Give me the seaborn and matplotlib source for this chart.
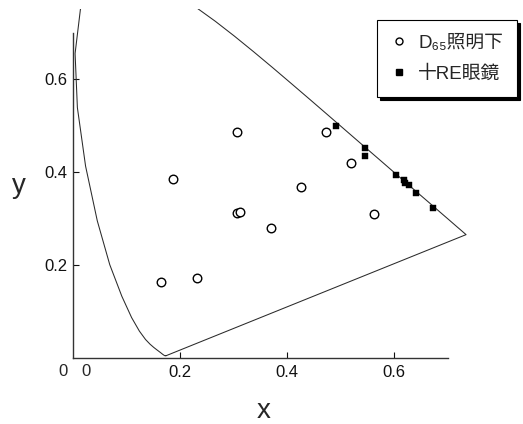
import pandas as pd
import seaborn as sns
import matplotlib.pyplot as plt
from matplotlib.lines import Line2D

# CIE 1931 spectral locus (380-700 nm, 5 nm steps), closed by the purple line
locus_x = [0.1741, 0.1740, 0.1738, 0.1736, 0.1733, 0.1730, 0.1726, 0.1721, 0.1714,
           0.1703, 0.1689, 0.1669, 0.1644, 0.1611, 0.1566, 0.1510, 0.1440, 0.1355,
           0.1241, 0.1096, 0.0913, 0.0687, 0.0454, 0.0235, 0.0082, 0.0039, 0.0139,
           0.0389, 0.0743, 0.1142, 0.1547, 0.1929, 0.2296, 0.2658, 0.3016, 0.3373,
           0.3731, 0.4087, 0.4441, 0.4788, 0.5125, 0.5448, 0.5752, 0.6029, 0.6270,
           0.6482, 0.6658, 0.6801, 0.6915, 0.7006, 0.7079, 0.7140, 0.7190, 0.7230,
           0.7260, 0.7283, 0.7300, 0.7311, 0.7320, 0.7347, 0.1741]
locus_y = [0.0050, 0.0050, 0.0049, 0.0049, 0.0048, 0.0048, 0.0048, 0.0048, 0.0051,
           0.0058, 0.0069, 0.0086, 0.0109, 0.0138, 0.0177, 0.0227, 0.0297, 0.0399,
           0.0578, 0.0868, 0.1327, 0.2007, 0.2950, 0.4127, 0.5384, 0.6548, 0.7502,
           0.8120, 0.8338, 0.8262, 0.8059, 0.7816, 0.7543, 0.7243, 0.6923, 0.6589,
           0.6245, 0.5896, 0.5547, 0.5202, 0.4866, 0.4544, 0.4242, 0.3965, 0.3725,
           0.3514, 0.3340, 0.3197, 0.3083, 0.2993, 0.2920, 0.2859, 0.2809, 0.2770,
           0.2740, 0.2717, 0.2700, 0.2689, 0.2680, 0.2653, 0.0050]

# D65 illumination samples
d65_x = [0.164, 0.231, 0.306, 0.312, 0.370, 0.306, 0.186, 0.473, 0.519, 0.426, 0.563]
d65_y = [0.163, 0.171, 0.311, 0.315, 0.279, 0.487, 0.386, 0.487, 0.419, 0.368, 0.309]

# with RE glasses
re_x = [0.492, 0.546, 0.546, 0.603, 0.618, 0.621, 0.628, 0.642, 0.673]
re_y = [0.500, 0.452, 0.435, 0.394, 0.382, 0.377, 0.371, 0.354, 0.323]

sns.set_theme(style="ticks")
plt.rcParams['font.family'] = ['Liberation Sans', 'DejaVu Sans', 'Noto Sans CJK JP']

fig = plt.figure(figsize=(5.23, 4.24), dpi=100)
ax = fig.add_axes([73 / 523, 66 / 424, 0.83 * 535 / 523, 0.75 * 465 / 424])

locus = pd.DataFrame({'x': locus_x, 'y': locus_y})
sns.lineplot(data=locus, x='x', y='y', sort=False, estimator=None, color='#2a2a2a',
             linewidth=0.75, ax=ax)

sns.scatterplot(x=re_x, y=re_y, marker='s', s=14, color='black', edgecolor='black',
                linewidth=0.3, ax=ax, zorder=3)
sns.scatterplot(x=d65_x, y=d65_y, marker='o', s=38, facecolor='white', edgecolor='black',
                linewidth=1.0, ax=ax, zorder=4)

ax.set_xlim(0, 0.83)
ax.set_ylim(0, 0.75)
ax.set_xticks([0.2, 0.4, 0.6])
ax.set_yticks([0.2, 0.4, 0.6])
ax.set_xticklabels(['0.2', '0.4', '0.6'])
ax.set_yticklabels(['0.2', '0.4', '0.6'])
ax.tick_params(direction='in', length=4, width=0.8, labelsize=12, colors='#111111')
ax.tick_params(axis='x', pad=5)
ax.tick_params(axis='y', pad=4)
ax.text(-0.018, -0.029, '0', fontsize=12, ha='center', va='center')
ax.text(0.024, -0.029, '0', fontsize=12, ha='center', va='center')

for side in ['top', 'right']:
    ax.spines[side].set_visible(False)
ax.spines['bottom'].set_bounds(0, 0.7)
ax.spines['left'].set_bounds(0, 0.7)
for side in ['bottom', 'left']:
    ax.spines[side].set_linewidth(1.0)
    ax.spines[side].set_color('#333333')

ax.set_xlabel('x', fontsize=20)
ax.xaxis.set_label_coords(0.43, -0.152)
ax.xaxis.label.set_va('center')
ax.set_ylabel('y', fontsize=20, rotation=0)
ax.yaxis.set_label_coords(-0.122, 0.493)
ax.yaxis.label.set_va('center')
ax.yaxis.label.set_ha('center')

handles = [
    Line2D([], [], linestyle='none', marker='o', markersize=5, markerfacecolor='white',
           markeredgecolor='black', markeredgewidth=1.0),
    Line2D([], [], linestyle='none', marker='s', markersize=4.5, color='black'),
]
labels = ['D₆₅照明下', '十RE眼鏡']
leg = ax.legend(handles, labels, loc='upper right', bbox_to_anchor=(1.0, 0.968),
                borderaxespad=0, fontsize=13.5, frameon=True, fancybox=False,
                edgecolor='black', framealpha=1, shadow={'color': 'black', 'alpha': 1},
                handlelength=0.9, handletextpad=0.55, labelspacing=0.75, borderpad=0.75)
leg.get_frame().set_linewidth(0.8)

plt.savefig('out.png', dpi=100)
